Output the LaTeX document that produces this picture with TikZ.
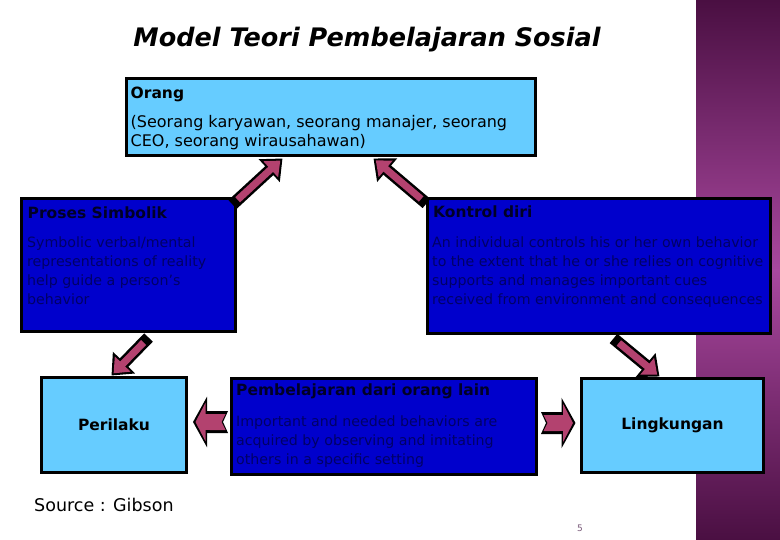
\documentclass[tikz,border=0pt]{standalone}
\usepackage{fontspec}
\setmainfont{DejaVu Sans}
\usepackage{tikz}
\usetikzlibrary{arrows.meta, positioning, calc}
\definecolor{lightbox}{HTML}{66CCFF}
\definecolor{darkbox}{HTML}{0000CC}
\definecolor{arrpink}{HTML}{B3426F}
\definecolor{bandtop}{HTML}{4A0F42}
\definecolor{bandmid}{HTML}{A9489F}
\definecolor{pagenum}{HTML}{7A5A7A}

\begin{document}
\begin{tikzpicture}[
  x=1pt, y=-1pt,
  lbox/.style={draw=black, line width=3pt, fill=lightbox, inner sep=0pt},
  dbox/.style={draw=black, line width=3pt, fill=darkbox, inner sep=0pt},
  hdr/.style={font=\fontsize{15.5}{18}\selectfont\bfseries, text=black!85!blue, inner sep=0pt, anchor=base west},
  body/.style={font=\fontsize{14.2}{19}\selectfont, text=blue!40!black, align=left, inner sep=0pt, anchor=north west},
  arrout/.style={draw=black, line width=12pt, -{Triangle[length=18pt,width=30pt]}},
  arrin/.style={draw=arrpink, line width=7pt, -{Triangle[length=13pt,width=21pt]}, shorten >=3pt, shorten <=7pt},
  sideout/.style={draw=black, line width=22pt, {Triangle Cap[reversed,length=5pt]}-{Triangle[length=14pt,width=50pt]}},
  sidein/.style={draw=arrpink, line width=16pt, {Triangle Cap[reversed,length=4pt]}-{Triangle[length=10pt,width=38pt]}, shorten >=2.5pt, shorten <=2.5pt},
]
  \useasboundingbox (0,0) rectangle (780,540);
  \fill[white] (0,0) rectangle (780,540);
  \shade[top color=bandtop, bottom color=bandmid] (696,0) rectangle (780,271);
  \shade[top color=bandmid, bottom color=bandtop] (696,270) rectangle (780,540);

  % ── Title ────────────────────────────────────────────────────────────
  \node[font=\fontsize{25.5}{30}\selectfont\bfseries\itshape] (title) at (367,40) {Model Teori Pembelajaran Sosial};

  % ── Boxes ────────────────────────────────────────────────────────────
  \node[lbox, minimum width=409, minimum height=77]  (or) at (331,117)   {};
  \node[dbox, minimum width=214, minimum height=133] (ps) at (128.5,265) {};
  \node[dbox, minimum width=343, minimum height=135] (kd) at (599,266)   {};
  \node[lbox, minimum width=145, minimum height=95]  (pe) at (114,425)   {};
  \node[dbox, minimum width=305, minimum height=96]  (pb) at (384,426.5) {};
  \node[lbox, minimum width=182, minimum height=94]  (li) at (672.5,425.5) {};

  % ── Box texts ────────────────────────────────────────────────────────
  \node[hdr, text=black] (ort) at ($(or.north west)+(5.5,21.5)$) {Orang};
  \node[font=\fontsize{16}{19}\selectfont, align=left, inner sep=0pt, anchor=north west] (orb) at ($(or.north west)+(5.5,38.5)$)
    {(Seorang karyawan, seorang manajer, seorang\\CEO, seorang wirausahawan)};
  \node[hdr] (pst) at ($(ps.north west)+(7.5,21.5)$) {Proses Simbolik};
  \node[body] (psb) at ($(ps.north west)+(7,39.7)$)
    {Symbolic verbal/mental\\representations of reality\\help guide a person's\\behavior};
  \node[hdr] (kdt) at ($(kd.north west)+(7,20.5)$) {Kontrol diri};
  \node[body] (kdb) at ($(kd.north west)+(6,39.7)$)
    {An individual controls his or her own behavior\\to the extent that he or she relies on cognitive\\supports and manages important cues\\received from environment and consequences};
  \node[hdr] (pbt) at ($(pb.north west)+(6,18.5)$) {Pembelajaran dari orang lain};
  \node[body] (pbb) at ($(pb.north west)+(6,38.7)$)
    {Important and needed behaviors are\\acquired by observing and imitating\\others in a specific setting};
  \node[hdr, text=black, anchor=center] (pet) at (pe.center) {Perilaku};
  \node[hdr, text=black, anchor=center] (lit) at (li.center) {Lingkungan};

  % ── Arrows ───────────────────────────────────────────────────────────
  \coordinate (a1s) at ($(ps.north east)+(-4.5,7.5)$);
  \coordinate (a1e) at ($(or.south west)+(157.5,1.5)$);
  \coordinate (a2s) at ($(kd.north west)+(0.5,6.5)$);
  \coordinate (a2e) at ($(or.south west)+(248.5,1.5)$);
  \coordinate (a3s) at ($(ps.south west)+(128.5,4.5)$);
  \coordinate (a3e) at ($(pe.north west)+(71.5,-0.5)$);
  \coordinate (a4s) at ($(kd.south west)+(187.5,3.5)$);
  \coordinate (a4e) at ($(li.north west)+(79.5,-0.5)$);
  \foreach \s/\e in {a1s/a1e, a2s/a2e, a3s/a3e, a4s/a4e} {
    \draw[arrout] (\s) -- (\e);
    \draw[arrin] (\s) -- (\e);
  }
  \coordinate (a5s) at ($(pb.west)+(-2,-4.5)$);
  \coordinate (a5e) at ($(pe.east)+(5,-3)$);
  \coordinate (a6s) at ($(pb.east)+(3,-3.5)$);
  \coordinate (a6e) at ($(li.west)+(-4.5,-2.5)$);
  \foreach \s/\e in {a5s/a5e, a6s/a6e} {
    \draw[sideout] (\s) -- (\e);
    \draw[sidein] (\s) -- (\e);
  }

  % ── Footer ───────────────────────────────────────────────────────────
  \node[font=\fontsize{17.5}{20}\selectfont, anchor=base west, inner sep=0pt] (src) at (34,511) {Source : Gibson};
  \node[font=\fontsize{9}{11}\selectfont, text=pagenum, inner sep=0pt] (pg) at (580,528) {5};
\end{tikzpicture}
\end{document}
